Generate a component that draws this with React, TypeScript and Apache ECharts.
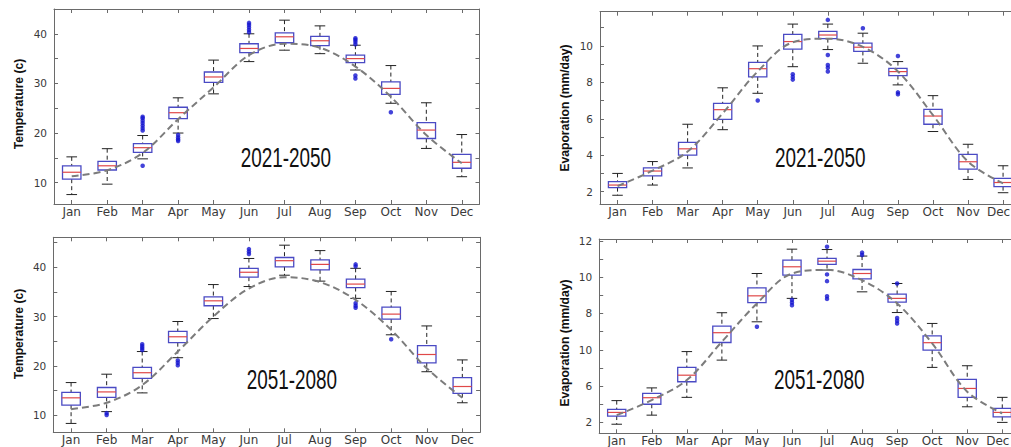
import React, { useEffect, useRef } from "react";
import * as echarts from "echarts";

const months = ["Jan", "Feb", "Mar", "Apr", "May", "Jun", "Jul", "Aug", "Sep", "Oct", "Nov", "Dec"];

// Temperature 2021-2050
const t1Low = [7.6, 9.7, 14.8, 20.0, 27.9, 34.4, 36.7, 36.0, 32.7, 26.0, 16.9, 11.2];
const t1Q1 = [10.7, 12.55, 16.1, 22.9, 30.2, 36.2, 38.2, 37.6, 34.2, 27.8, 18.9, 12.9];
const t1Med = [12.1, 13.4, 17.05, 24.1, 31.3, 37.05, 39.4, 38.6, 35.0, 29.0, 20.6, 14.1];
const t1Q3 = [13.4, 14.3, 17.85, 25.2, 32.3, 38.0, 40.2, 39.5, 35.7, 30.3, 22.1, 15.7];
const t1High = [15.2, 16.85, 19.5, 27.1, 34.7, 40.0, 42.75, 41.6, 37.7, 33.6, 26.1, 19.7];
const t1Base = [11.3, 12.5, 16.0, 22.8, 29.2, 35.7, 38.0, 37.2, 33.4, 27.3, 19.6, 13.9];
const t1Out = [
  [2, 20.5], [2, 21.0], [2, 21.5], [2, 22.0], [2, 22.5], [2, 23.0], [2, 23.3], [2, 13.4],
  [3, 19.6], [3, 19.1], [3, 18.7], [3, 18.4],
  [5, 40.3], [5, 40.8], [5, 41.3], [5, 41.8], [5, 42.2],
  [8, 37.9], [8, 38.4], [8, 38.8], [8, 39.1], [8, 31.6], [8, 31.0],
  [9, 24.2],
];

// Temperature 2051-2080
const t2Low = [8.3, 10.7, 14.5, 21.65, 29.6, 36.1, 38.4, 37.2, 33.7, 26.3, 18.8, 12.5];
const t2Q1 = [12.0, 13.6, 17.45, 24.7, 32.2, 38.0, 40.1, 39.5, 35.9, 29.5, 20.6, 14.4];
const t2Med = [13.5, 14.7, 18.6, 25.9, 33.2, 39.0, 41.35, 40.6, 36.6, 30.5, 22.3, 15.8];
const t2Q3 = [14.6, 15.6, 19.7, 27.0, 34.0, 39.8, 42.0, 41.5, 37.6, 31.9, 24.1, 17.6];
const t2High = [16.6, 18.3, 22.9, 29.0, 36.5, 41.8, 44.5, 43.4, 39.8, 35.1, 28.1, 21.2];
const t2Base = [11.2, 12.5, 16.1, 22.9, 30.0, 35.7, 38.0, 37.0, 33.4, 27.3, 19.5, 13.5];
const t2Out = [
  [1, 10.4], [1, 10.0],
  [2, 23.2], [2, 23.6], [2, 24.0], [2, 24.4],
  [3, 21.1], [3, 20.6], [3, 20.1],
  [5, 42.7], [5, 43.2], [5, 43.7],
  [8, 40.2], [8, 40.6], [8, 32.7], [8, 32.2], [8, 31.8],
  [9, 25.4],
];

// Evaporation 2021-2050
const e1Low = [1.8, 2.36, 3.3, 5.4, 7.4, 8.86, 9.8, 9.05, 7.86, 5.3, 2.67, 1.94];
const e1Q1 = [2.22, 2.86, 4.0, 5.97, 8.3, 9.82, 10.4, 9.7, 8.37, 5.7, 3.24, 2.27];
const e1Med = [2.36, 3.13, 4.35, 6.5, 8.75, 10.24, 10.6, 9.93, 8.59, 6.15, 3.64, 2.5];
const e1Q3 = [2.55, 3.3, 4.7, 6.85, 9.1, 10.64, 10.8, 10.15, 8.77, 6.52, 4.05, 2.73];
const e1High = [3.0, 3.65, 5.7, 7.7, 10.0, 11.2, 11.2, 10.7, 9.14, 7.27, 4.6, 3.42];
const e1Base = [2.3, 3.15, 4.2, 6.3, 8.6, 10.2, 10.4, 9.95, 8.6, 6.2, 3.65, 2.45];
const e1Out = [
  [4, 7.0],
  [5, 8.45], [5, 8.3], [5, 8.15],
  [6, 11.43], [6, 9.5], [6, 8.95], [6, 8.8], [6, 8.6],
  [7, 10.97],
  [8, 9.45], [8, 7.45], [8, 7.35],
];

// Evaporation 2051-2080
const e2Low = [1.9, 2.4, 3.38, 5.43, 7.54, 8.83, 10.39, 9.19, 8.05, 5.03, 2.86, 2.0];
const e2Q1 = [2.35, 3.0, 4.24, 6.4, 8.6, 10.11, 10.7, 9.9, 8.62, 5.98, 3.38, 2.31];
const e2Med = [2.55, 3.36, 4.6, 6.94, 8.97, 10.57, 10.88, 10.2, 8.83, 6.39, 3.87, 2.55];
const e2Q3 = [2.72, 3.6, 5.03, 7.3, 9.41, 10.94, 11.03, 10.42, 9.06, 6.77, 4.37, 2.77];
const e2High = [3.2, 3.9, 5.9, 8.04, 10.2, 11.54, 11.52, 11.16, 9.65, 7.45, 5.12, 3.38];
const e2Base = [2.4, 3.23, 4.33, 6.44, 8.55, 10.2, 10.4, 9.83, 8.55, 6.35, 3.69, 2.5];
const e2Out = [
  [4, 7.27],
  [5, 8.75], [5, 8.6], [5, 8.45],
  [6, 11.67], [6, 10.15], [6, 9.78], [6, 8.95], [6, 8.8],
  [7, 11.35], [7, 11.22],
  [8, 9.65], [8, 7.75], [8, 7.6], [8, 7.45],
];

// Tick values and labels
const tempTicks = [10, 15, 20, 25, 30, 35, 40, 45];
const tempLabels = [10, 20, 30, 40];
const evapTicks1 = [2, 3, 4, 5, 6, 7, 8, 9, 10, 11];
const evapLabels1 = [2, 4, 6, 8, 10];
const evapTicks2 = [2, 3, 4, 5, 6, 7, 8, 9, 10, 11, 12];
const evapLabels2 = [2, 4, 6, 8, 10, 12];
const evapLabelText2 = ["2", "6", "10", "8", "10", "12"];

const panelTitles = ["2021-2050", "2051-2080", "2021-2050", "2051-2080"];
const yTitles = ["Temperature (c)", "Temperature (c)", "Evaporation (mm/day)", "Evaporation (mm/day)"];

const AXIS_COLOR = "#6a6a6a";
const LABEL_COLOR = "#3a3a3a";

function boxRows(low: number[], q1: number[], med: number[], q3: number[], high: number[]) {
  return months.map((_, i) => [i, low[i], q1[i], med[i], q3[i], high[i]]);
}

function renderBox(params: any, api: any) {
  const i = api.value(0);
  const low = api.coord([i, api.value(1)]);
  const q1 = api.coord([i, api.value(2)]);
  const med = api.coord([i, api.value(3)]);
  const q3 = api.coord([i, api.value(4)]);
  const high = api.coord([i, api.value(5)]);
  const band = api.size([1, 0])[0];
  const bw = (band * 0.52) / 2;
  const cw = (band * 0.3) / 2;
  const x = low[0];
  const dashStyle = { stroke: "#222", lineWidth: 1, lineDash: [4, 3], fill: null };
  const solid = { stroke: "#222", lineWidth: 1, fill: null };
  return {
    type: "group",
    children: [
      { type: "line", shape: { x1: x, y1: high[1], x2: x, y2: q3[1] }, style: dashStyle },
      { type: "line", shape: { x1: x, y1: q1[1], x2: x, y2: low[1] }, style: dashStyle },
      { type: "line", shape: { x1: x - cw, y1: high[1], x2: x + cw, y2: high[1] }, style: solid },
      { type: "line", shape: { x1: x - cw, y1: low[1], x2: x + cw, y2: low[1] }, style: solid },
      {
        type: "rect",
        shape: { x: x - bw, y: q3[1], width: 2 * bw, height: q1[1] - q3[1] },
        style: { fill: "none", stroke: "#4a4ac4", lineWidth: 1.3 },
      },
      {
        type: "line",
        shape: { x1: x - bw, y1: med[1], x2: x + bw, y2: med[1] },
        style: { stroke: "#e04848", lineWidth: 1.2 },
      },
    ],
  };
}

export default function App() {
  const ref = useRef<HTMLDivElement>(null);

  useEffect(() => {
    if (!ref.current) return;
    const chart = echarts.init(ref.current, undefined, { renderer: "svg" });

    const grids = [
      { left: 54, top: 9, width: 425.5, height: 195, outerBoundsMode: "none" },
      { left: 53.3, top: 237.3, width: 426.8, height: 195, outerBoundsMode: "none" },
      { left: 600, top: 11.7, width: 420.6, height: 192.3, outerBoundsMode: "none" },
      { left: 599.2, top: 239, width: 420.6, height: 194.3, outerBoundsMode: "none" },
    ];
    const ranges = [
      [5.7, 45],
      [6.5, 46.1],
      [1.32, 11.88],
      [1.4, 12.1],
    ];
    const ticks = [tempTicks, tempTicks, evapTicks1, evapTicks2];
    const labels = [tempLabels, tempLabels, evapLabels1, evapLabels2];

    const xAxis: any[] = [];
    const yAxis: any[] = [];
    grids.forEach((_, gi) => {
      const tickCommon = { show: true, inside: true, length: 4, alignWithLabel: true, lineStyle: { color: AXIS_COLOR } };
      const rightSide = gi >= 2;
      xAxis.push({
        type: "category",
        gridIndex: gi,
        data: months,
        position: "bottom",
        boundaryGap: true,
        axisLine: { show: true, onZero: false, lineStyle: { color: AXIS_COLOR } },
        axisTick: tickCommon,
        axisLabel: {
          color: LABEL_COLOR,
          fontSize: 12,
          lineHeight: 12,
          fontFamily: "DejaVu Sans",
          margin: 2,
          interval: 0,
          formatter: rightSide
            ? (v: string, idx: number) => (idx === months.length - 1 ? `{e|${v}}` : v)
            : undefined,
          rich: {
            e: {
              color: LABEL_COLOR,
              fontSize: 12,
              lineHeight: 12,
              fontFamily: "DejaVu Sans",
              padding: [0, 9, 0, 0],
            },
          },
        },
        splitLine: { show: false },
      });
      xAxis.push({
        type: "category",
        gridIndex: gi,
        data: months,
        position: "top",
        boundaryGap: true,
        axisLine: { show: true, onZero: false, lineStyle: { color: AXIS_COLOR } },
        axisTick: tickCommon,
        axisLabel: { show: false },
        splitLine: { show: false },
      });
      const yCommon = {
        type: "value",
        gridIndex: gi,
        min: ranges[gi][0],
        max: ranges[gi][1],
        splitLine: { show: false },
        axisLine: { show: true, lineStyle: { color: AXIS_COLOR } },
        axisTick: { show: true, inside: true, length: 4, lineStyle: { color: AXIS_COLOR }, customValues: ticks[gi] },
      };
      yAxis.push({
        ...yCommon,
        position: "left",
        axisLabel: {
          customValues: labels[gi],
          color: LABEL_COLOR,
          fontSize: 10.5,
          fontFamily: "DejaVu Sans",
          margin: 7,
          formatter:
            gi === 3
              ? (v: number) => {
                  const k = evapLabels2.indexOf(Math.round(v));
                  return k >= 0 ? evapLabelText2[k] : String(v);
                }
              : (v: number) => String(Math.round(v)),
        },
      });
      yAxis.push({ ...yCommon, position: "right", axisLabel: { show: false } });
    });

    const panels = [
      { rows: boxRows(t1Low, t1Q1, t1Med, t1Q3, t1High), out: t1Out, base: t1Base },
      { rows: boxRows(t2Low, t2Q1, t2Med, t2Q3, t2High), out: t2Out, base: t2Base },
      { rows: boxRows(e1Low, e1Q1, e1Med, e1Q3, e1High), out: e1Out, base: e1Base },
      { rows: boxRows(e2Low, e2Q1, e2Med, e2Q3, e2High), out: e2Out, base: e2Base },
    ];

    const series: any[] = [];
    panels.forEach((p, gi) => {
      series.push({
        type: "custom",
        xAxisIndex: gi * 2,
        yAxisIndex: gi * 2,
        renderItem: renderBox,
        encode: { x: 0, y: [1, 2, 3, 4, 5] },
        data: p.rows,
        z: 2,
      });
      series.push({
        type: "scatter",
        xAxisIndex: gi * 2,
        yAxisIndex: gi * 2,
        data: p.out,
        symbol: "circle",
        symbolSize: 4.5,
        itemStyle: { color: "#1414d0" },
        z: 3,
      });
      series.push({
        type: "line",
        xAxisIndex: gi * 2,
        yAxisIndex: gi * 2,
        data: p.base,
        smooth: 0.35,
        showSymbol: false,
        lineStyle: { color: "#7c7c7c", width: 2, type: [7, 4] },
        z: 4,
      });
    });

    const titlePos = [
      [18.5, 104],
      [18.5, 334],
      [565, 108],
      [565, 343],
    ];
    const yearPos = [
      [240.7, 157],
      [246.7, 379],
      [775, 157.5],
      [774, 379],
    ];

    const graphic: any[] = [];
    yTitles.forEach((t, i) => {
      graphic.push({
        type: "text",
        x: titlePos[i][0],
        y: titlePos[i][1],
        rotation: Math.PI / 2,
        scaleX: 0.93,
        style: {
          text: t,
          fill: "#111",
          font: "bold 13px 'Liberation Sans', Arial, sans-serif",
          align: "center",
          verticalAlign: "middle",
        },
      });
    });
    panelTitles.forEach((t, i) => {
      graphic.push({
        type: "text",
        x: yearPos[i][0],
        y: yearPos[i][1],
        scaleX: 0.676,
        style: {
          text: t,
          fill: "#111",
          font: "28px 'Liberation Sans', Arial, sans-serif",
          align: "left",
          verticalAlign: "middle",
        },
      });
    });

    chart.setOption({
      animation: false,
      backgroundColor: "#ffffff",
      grid: grids,
      xAxis,
      yAxis,
      series,
      graphic,
    });

    return () => chart.dispose();
  }, []);

  return (
    <div
      ref={ref}
      style={{ position: "absolute", left: 0, top: 0, width: 1011, height: 447, overflow: "hidden" }}
    />
  );
}
